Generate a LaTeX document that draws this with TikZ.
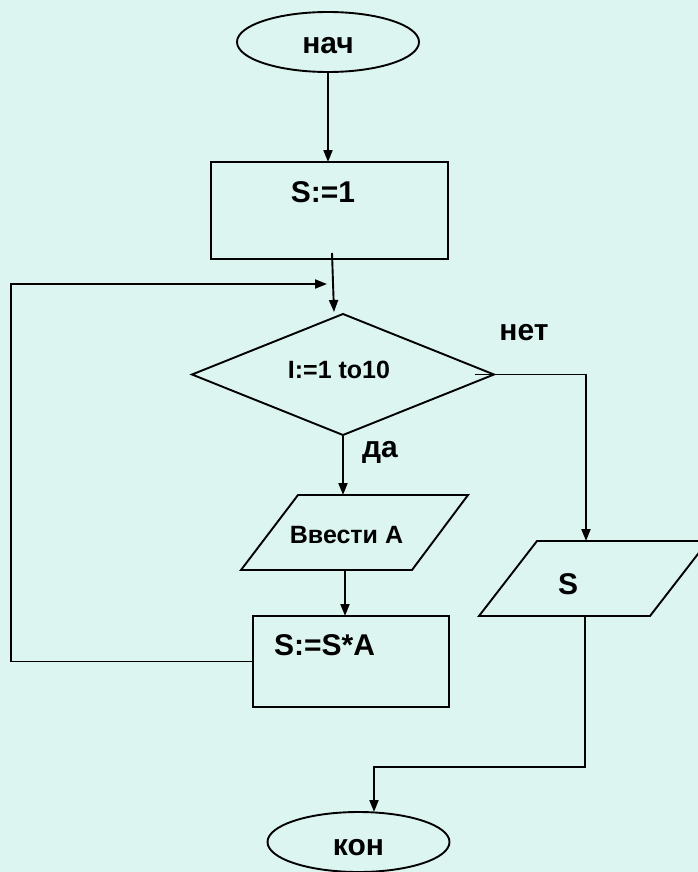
\documentclass[tikz,border=0pt]{standalone}
\usepackage{fontspec}
\setmainfont{Liberation Sans}
\usetikzlibrary{shapes.geometric,arrows.meta}
\definecolor{bg}{RGB}{221,245,240}
\begin{document}
\begin{tikzpicture}[x=1bp,y=-1bp,line width=1.9bp,
  box/.style={draw,rectangle,inner sep=0,outer sep=0},
  term/.style={draw,ellipse,minimum width=182bp,minimum height=60bp,inner sep=0,outer sep=0},
  lbl/.style={anchor=base,inner sep=0,font=\fontsize{30bp}{36bp}\selectfont\bfseries},
  small/.style={font=\fontsize{25bp}{30bp}\selectfont\bfseries},
  arr/.style={-{Triangle[length=12bp,width=9bp]}}]
\fill[bg] (0,0) rectangle (698,872);
\useasboundingbox (0,0) rectangle (698,872);
% shapes
\node[term] (start) at (328,42) {};
\node[lbl] (tstart) at (328,53) {нач};
\node[box,minimum width=237bp,minimum height=97bp] (s1) at (329.5,210.5) {};
\node[lbl] (ts1) at (323,202) {S:=1};
\node[draw,diamond,minimum width=302bp,minimum height=121bp,inner sep=0,outer sep=0] (cond) at (343,374.5) {};
\node[lbl,small] (tcond) at (339,378) {I:=1 to10};
\node[lbl] (tno) at (524,340) {нет};
\node[lbl] (tyes) at (380,457) {да};
\draw (298,495) -- (468,495) -- (412,570) -- (241,570) -- cycle;
\coordinate (vvt) at (345,495);
\coordinate (vvb) at (345,570);
\node[lbl,small] (tvv) at (346.5,543) {Ввести А};
\node[box,minimum width=196bp,minimum height=91bp] (sa) at (351,661.5) {};
\node[lbl] (tsa) at (324.5,655) {S:=S*A};
\draw (537,541) -- (708,541) -- (650,616) -- (479,616) -- cycle;
\coordinate (st) at (586,541);
\coordinate (sb) at (585,616);
\node[lbl] (ts) at (568,594) {S};
\node[term] (end) at (358.5,842) {};
\node[lbl] (tend) at (358.5,855) {кон};
% connectors
\draw[arr] (start.south) -- (start.south |- s1.north);
\coordinate (a1) at (332,253);
\coordinate (a2) at (334,312);
\draw[arr] (a1) -- (a2);
\coordinate (l2) at (11,284);
\coordinate (l3) at (327,284);
\draw[arr] (sa.west) -| (l2) -- (l3);
\draw[arr] (cond.south) -- (cond.south |- vvt);
\draw[arr] (vvb) -- (vvb |- sa.north);
\coordinate (n0) at (475,374.5);
\coordinate (n1) at (586,374.5);
\draw[arr] (n0) -- (n1) -- (st);
\coordinate (e1) at (585,767);
\coordinate (e2) at (374,767);
\draw[arr] (sb) -- (e1) -- (e2) -- (e2 |- end.north);
\end{tikzpicture}
\end{document}
